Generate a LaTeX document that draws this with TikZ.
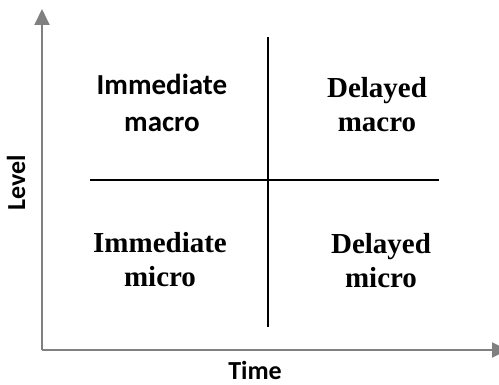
\documentclass[tikz,border=0pt]{standalone}
\usepackage{fontspec}
\newfontfamily\calibrifont{Carlito}
\newfontfamily\timesfont{Liberation Serif}
\usetikzlibrary{arrows.meta}
\definecolor{axisgray}{RGB}{128,128,128}
\tikzset{
  axisline/.style={draw=axisgray, line width=2pt, -{Triangle[length=16pt,width=15pt]}},
  divider/.style={draw=black, line width=1.8pt},
  quadsans/.style={font=\calibrifont\bfseries\fontsize{29}{37}\selectfont, align=center, anchor=base, inner sep=0pt},
  quadserif/.style={font=\timesfont\bfseries\fontsize{29}{34}\selectfont, align=center, anchor=base, inner sep=0pt},
  axislabel/.style={font=\calibrifont\bfseries\fontsize{26}{30}\selectfont, anchor=base, inner sep=0pt}
}
\begin{document}
\begin{tikzpicture}[x=1pt, y=-1pt]
    \useasboundingbox (0,0) rectangle (499,385);
    \clip (0,0) rectangle (499,385);
    % axes
    \coordinate (origin) at (42,350);
    \coordinate (ytip) at (42,9);
    \coordinate (xtip) at (508,350);
    \draw[axisline] (origin) -- (ytip);
    \draw[axisline] (origin) -- (xtip);
    \node[axislabel] (time) at (255,380) {Time};
    \node[axislabel, rotate=90] (level) at (25,183) {Level};

    % quadrant lines
    \coordinate (vtop) at (268,37);
    \coordinate (vbot) at (268,327);
    \coordinate (hleft) at (90,180);
    \coordinate (hright) at (439,180);
    \draw[divider] (vtop) -- (vbot);
    \draw[divider] (hleft) -- (hright);

    % base anchor sits on the last line
    \node[quadsans] (imacro) at (162,132) {Immediate\\macro};
    \node[quadserif] (dmacro) at (377,132) {Delayed\\macro};
    \node[quadserif] (imicro) at (160,287) {Immediate\\micro};
    \node[quadserif] (dmicro) at (381,288) {Delayed\\micro};
\end{tikzpicture}
\end{document}
